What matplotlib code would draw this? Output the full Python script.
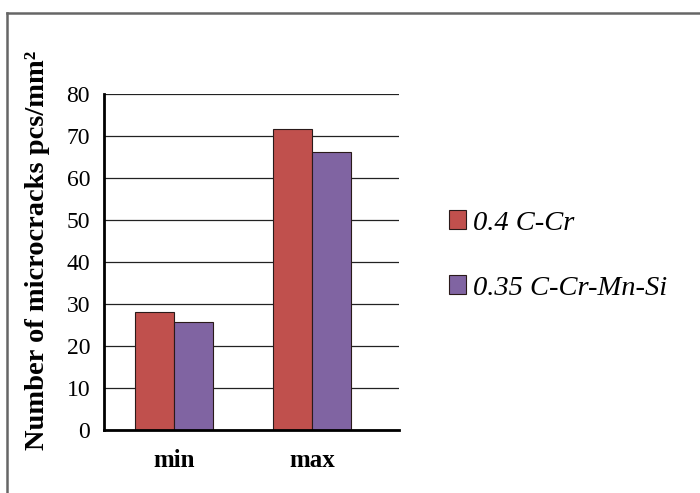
import matplotlib
matplotlib.use("Agg")
import matplotlib.pyplot as plt
from matplotlib.patches import Patch
from matplotlib.lines import Line2D
import numpy as np

categories = ["min", "max"]
series_names = ["0.4 C-Cr", "0.35 C-Cr-Mn-Si"]
values_cr = [27.9, 71.5]
values_crmnsi = [25.7, 66.0]
colors = ["#C0504D", "#8064A2"]
yticks = [0, 10, 20, 30, 40, 50, 60, 70, 80]

fig = plt.figure(figsize=(7, 4.93), dpi=100)
ax = fig.add_axes([104/700, 1-429.5/493, 295/700, 336/493])

x = np.arange(len(categories))
w = 0.283
ax.bar(x - w/2, values_cr, w, color=colors[0], edgecolor="#2a1a1a", linewidth=0.8, zorder=3)
ax.bar(x + w/2, values_crmnsi, w, color=colors[1], edgecolor="#2a1a1a", linewidth=0.8, zorder=3)

ax.set_ylim(0, 80)
ax.set_xlim(-0.507, 1.63)
ax.set_yticks(yticks)
ax.set_xticks(x)
ax.set_xticklabels(categories, family="Liberation Serif", fontweight="bold", fontsize=18)
ax.set_yticklabels([str(t) for t in yticks], family="Liberation Serif", fontsize=17)
ax.tick_params(axis="y", length=0, pad=10)
ax.tick_params(axis="x", length=0, pad=14)
ax.yaxis.grid(True, color="#222222", linewidth=0.9, zorder=0)
for s in ["top", "right"]:
    ax.spines[s].set_visible(False)
for s in ["left", "bottom"]:
    ax.spines[s].set_linewidth(2)
    ax.spines[s].set_color("black")
    ax.spines[s].set_zorder(4)

fig.text(38/700, 1-250/493, "Number of microcracks pcs/mm\u00b2", rotation=90,
         ha="center", va="center", family="Liberation Serif", fontweight="bold", fontsize=20.5)

handles = [Patch(facecolor=colors[0], edgecolor="#2a1a1a", linewidth=0.8),
           Patch(facecolor=colors[1], edgecolor="#2a1a1a", linewidth=0.8)]
fig.legend(handles, series_names, loc="center left", bbox_to_anchor=(449/700, 1-255.5/493),
           frameon=False, prop={"family": "Liberation Serif", "style": "italic", "size": 20.5},
           handlelength=0.6, handleheight=0.6, handletextpad=0.25, labelspacing=1.4,
           borderpad=0, borderaxespad=0)

# figure frame (top and left only)
fig.add_artist(Line2D([7/700, 1], [1-13/493, 1-13/493], color="#666666", linewidth=1.8,
                      transform=fig.transFigure))
fig.add_artist(Line2D([7/700, 7/700], [0, 1-13/493], color="#666666", linewidth=1.8,
                      transform=fig.transFigure))

fig.savefig("out.png", dpi=100)
